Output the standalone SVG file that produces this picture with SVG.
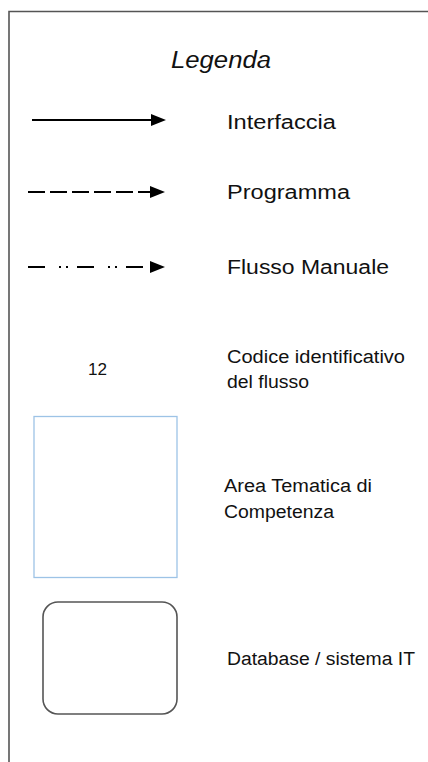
<svg xmlns="http://www.w3.org/2000/svg" width="428" height="762" viewBox="0 0 428 762">
<style>
.t{font-family:"Liberation Sans",Arial,sans-serif;fill:#111;}
.lbl{font-size:20px;}
.sm{font-size:18px;}
.ln{stroke:#000;stroke-width:1.8;fill:none;}
</style>
<defs>
<marker id="ah" markerWidth="15" markerHeight="12" refX="0" refY="6" orient="auto" markerUnits="userSpaceOnUse">
<path d="M0,0 L15,6 L0,12 Z" fill="#000"/>
</marker>
</defs>
<rect width="428" height="762" fill="#fff"/>
<g id="frame">
<path d="M428,11.5 H9 V762" fill="none" stroke="#555" stroke-width="1.6"/>
</g>
<g id="title">
<text class="t" x="171" y="68" font-size="23" font-style="italic" textLength="100" lengthAdjust="spacingAndGlyphs">Legenda</text>
</g>
<g id="connectors">
<line class="ln" x1="32" y1="120" x2="151" y2="120" marker-end="url(#ah)"/>
<line class="ln" x1="28" y1="192" x2="150" y2="192" stroke-dasharray="17,5" marker-end="url(#ah)"/>
<line class="ln" x1="28" y1="267" x2="150" y2="267" stroke-dasharray="17,14,2,5,2,9" marker-end="url(#ah)"/>
</g>
<g id="legend-interfaccia">
<text class="t lbl" x="227" y="129" textLength="109" lengthAdjust="spacingAndGlyphs">Interfaccia</text>
</g>
<g id="legend-programma">
<text class="t lbl" x="227" y="199" textLength="123" lengthAdjust="spacingAndGlyphs">Programma</text>
</g>
<g id="legend-flusso">
<text class="t lbl" x="227" y="274" textLength="162" lengthAdjust="spacingAndGlyphs">Flusso Manuale</text>
</g>
<g id="legend-codice">
<text class="t" x="88" y="375" font-size="16" textLength="19" lengthAdjust="spacingAndGlyphs">12</text>
<text class="t sm" x="227" y="363" textLength="178" lengthAdjust="spacingAndGlyphs">Codice identificativo</text>
<text class="t sm" x="227" y="388" textLength="82" lengthAdjust="spacingAndGlyphs">del flusso</text>
</g>
<g id="legend-area">
<rect x="34" y="416.5" width="143" height="161" fill="#ffffff" stroke="#9dc3e6" stroke-width="1.3"/>
<text class="t sm" x="224" y="492" textLength="148" lengthAdjust="spacingAndGlyphs">Area Tematica di</text>
<text class="t sm" x="224" y="518" textLength="110" lengthAdjust="spacingAndGlyphs">Competenza</text>
</g>
<g id="legend-database">
<rect x="43" y="602" width="134" height="112" rx="15" ry="15" fill="#fff" stroke="#555" stroke-width="1.6"/>
<text class="t sm" x="227" y="665" textLength="188" lengthAdjust="spacingAndGlyphs">Database / sistema IT</text>
</g>
</svg>
